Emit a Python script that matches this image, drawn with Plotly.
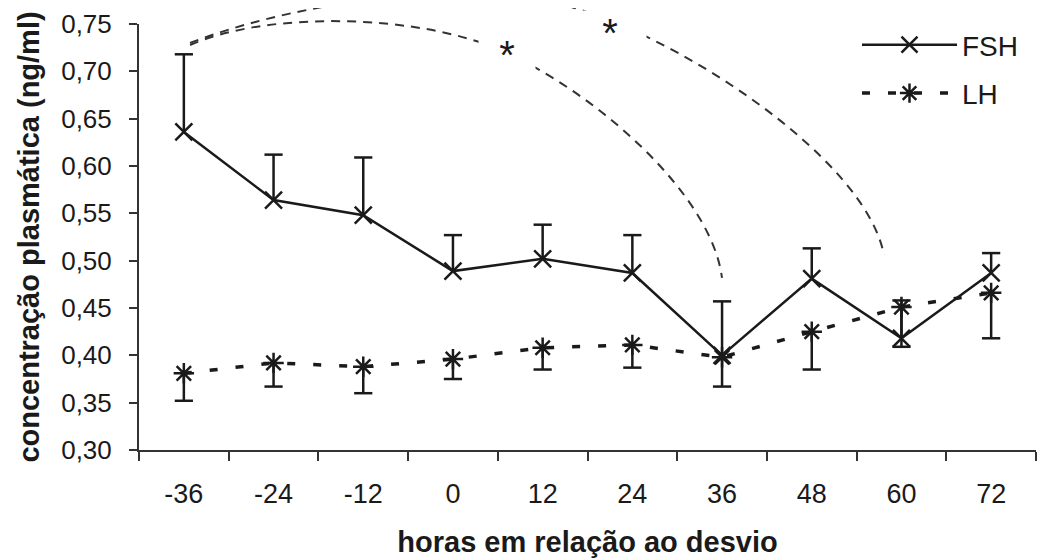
import plotly.graph_objects as go

# ---------------- data ----------------
categories = ["-36", "-24", "-12", "0", "12", "24", "36", "48", "60", "72"]
fsh_mean = [0.636, 0.564, 0.548, 0.489, 0.502, 0.487, 0.400, 0.481, 0.418, 0.487]
fsh_upper = [0.718, 0.612, 0.609, 0.527, 0.538, 0.527, 0.457, 0.513, 0.458, 0.508]
lh_mean = [0.381, 0.392, 0.388, 0.396, 0.408, 0.411, 0.398, 0.425, 0.451, 0.466]
lh_lower = [0.352, 0.367, 0.360, 0.375, 0.385, 0.387, 0.367, 0.385, 0.409, 0.418]
y_tick_values = [0.30, 0.35, 0.40, 0.45, 0.50, 0.55, 0.60, 0.65, 0.70, 0.75]
y_tick_labels = ["0,30", "0,35", "0,40", "0,45", "0,50", "0,55", "0,60", "0,65", "0,70", "0,75"]

# ---------------- layout geometry ----------------
# the page body adds an 8px offset, so the figure is 8px smaller than the window
OFF = 8
FIG_W, FIG_H = 1045 - OFF, 558 - OFF
M_L, M_R, M_T, M_B = 139 - OFF, 9, 24 - OFF, 108
FONT = "Liberation Sans, Arial, sans-serif"
INK = "#1a1a1a"

x_pos = list(range(len(categories)))


def paper(px, py):
    """window pixel position -> paper coordinates"""
    px -= OFF
    py -= OFF
    return ((px - M_L) / (FIG_W - M_L - M_R), (FIG_H - M_B - py) / (FIG_H - M_T - M_B))


def stems(base, ends):
    xs, ys = [], []
    for i, (b, e) in enumerate(zip(base, ends)):
        xs += [i, i, None]
        ys += [b, e, None]
    return xs, ys


fig = go.Figure()

# error bars (FSH upward, LH downward)
fx, fy = stems(fsh_mean, fsh_upper)
lx, ly = stems(lh_mean, lh_lower)
for xs, ys in ((fx, fy), (lx, ly)):
    fig.add_trace(go.Scatter(x=xs, y=ys, mode="lines", line=dict(color=INK, width=2.5),
                             showlegend=False, hoverinfo="skip"))
for ends in (fsh_upper, lh_lower):
    fig.add_trace(go.Scatter(x=x_pos, y=ends, mode="markers",
                             marker=dict(symbol="line-ew-open", size=13, color=INK,
                                         line=dict(color=INK, width=2.5)),
                             showlegend=False, hoverinfo="skip"))

# series
fig.add_trace(go.Scatter(
    x=x_pos, y=lh_mean, name="LH", mode="lines+markers", legendrank=2, legendgroup="lh",
    line=dict(color=INK, width=3.5, dash="8px,18px"),
    marker=dict(symbol="asterisk-open", size=17, color=INK, line=dict(color=INK, width=2.5)),
))
fig.add_trace(go.Scatter(
    x=x_pos, y=fsh_mean, name="FSH", mode="lines+markers", legendrank=1, legendgroup="fsh",
    line=dict(color=INK, width=2.5),
    marker=dict(symbol="x-thin-open", size=17, color=INK, line=dict(color=INK, width=2.5)),
))

# significance arcs (decoration)
arcs = [
    [(190, 45), (270, 10), (420, 15), (500, 50), (596, 92), (712, 195), (722, 278)],
    [(190, 43), (280, 8), (440, -22), (560, 4), (668, 30), (865, 155), (884, 255)],
]
for pts in arcs:
    p = [paper(*q) for q in pts]
    path = "M{:.4f},{:.4f}".format(*p[0])
    path += " C{:.4f},{:.4f} {:.4f},{:.4f} {:.4f},{:.4f}".format(*p[1], *p[2], *p[3])
    path += " C{:.4f},{:.4f} {:.4f},{:.4f} {:.4f},{:.4f}".format(*p[4], *p[5], *p[6])
    fig.add_shape(type="path", path=path, xref="paper", yref="paper", layer="above",
                  line=dict(color="#333333", width=2, dash="9px,7px"))

# significance stars, their white box opens a gap in each arc
for (cx, cy, w, anchor) in ((507, 55, 56, "middle"), (610, 10, 72, "top")):
    ax_, ay_ = paper(cx, cy)
    fig.add_annotation(x=ax_, y=ay_, xref="paper", yref="paper", text="*", showarrow=False,
                       xanchor="center", yanchor=anchor, width=w, bgcolor="white", borderpad=0,
                       font=dict(family=FONT, size=40, color=INK))

fig.update_layout(
    width=FIG_W, height=FIG_H,
    margin=dict(l=M_L, r=M_R, t=M_T, b=M_B, autoexpand=False),
    paper_bgcolor="white", plot_bgcolor="white",
    font=dict(family=FONT, color=INK),
    showlegend=True,
    legend=dict(x=paper(857, 0)[0], y=paper(0, 20)[1], xanchor="left", yanchor="top",
                font=dict(family=FONT, size=28, color=INK), itemwidth=95,
                tracegroupgap=9, bgcolor="rgba(0,0,0,0)", traceorder="grouped"),
    xaxis=dict(
        range=[-0.5, len(categories) - 0.5], tickmode="array", tickvals=x_pos, ticktext=categories,
        ticks="", showgrid=False, zeroline=False, showline=True, linecolor="#333333", linewidth=2,
        tickfont=dict(family=FONT, size=27, color=INK), ticklabelstandoff=19,
        minor=dict(tickmode="linear", tick0=-0.5, dtick=1, ticks="outside", ticklen=9,
                   tickwidth=2, tickcolor="#333333", showgrid=False),
        title=dict(text="horas em relação ao desvio", standoff=24,
                   font=dict(family=FONT, size=29, color=INK, weight="bold")),
    ),
    yaxis=dict(
        range=[0.30, 0.75], tickmode="array", tickvals=y_tick_values, ticktext=y_tick_labels,
        ticks="outside", ticklen=8, tickwidth=2, tickcolor="#333333",
        showgrid=False, zeroline=False, showline=True, linecolor="#333333", linewidth=2,
        tickfont=dict(family=FONT, size=26, color=INK), ticklabelstandoff=12,
        title=dict(text="concentração plasmática (ng/ml)", standoff=13,
                   font=dict(family=FONT, size=29, color=INK, weight="bold")),
    ),
)

fig.write_html("out.html")
